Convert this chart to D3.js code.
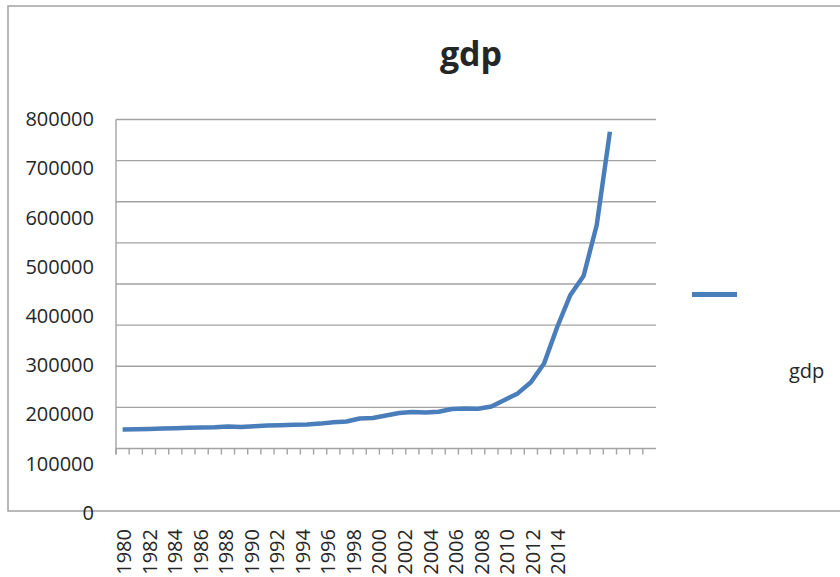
<!DOCTYPE html>
<html><head><meta charset="utf-8">
<script src="https://cdn.jsdelivr.net/npm/d3@7"></script>
<style>
html,body{margin:0;padding:0;background:#fff;}
svg{display:block;}
text{font-family:"Open Sans",sans-serif;fill:#262626;}
</style></head>
<body>
<svg id="chart" width="840" height="577"></svg>
<script>
// ---- data ----
const categories = ["1980","1981","1982","1983","1984","1985","1986","1987","1988","1989",
  "1990","1991","1992","1993","1994","1995","1996","1997","1998","1999",
  "2000","2001","2002","2003","2004","2005","2006","2007","2008","2009",
  "2010","2011","2012","2013","2014","2015","2016","2017","2018","2019","2020"];
const dataYears = ["1980","1981","1982","1983","1984","1985","1986","1987","1988","1989",
  "1990","1991","1992","1993","1994","1995","1996","1997","1998","1999",
  "2000","2001","2002","2003","2004","2005","2006","2007","2008","2009",
  "2010","2011","2012","2013","2014","2015","2016","2017"];
const gdp = [46200,46900,47700,48400,49400,50600,51300,51800,53500,52300,
  54200,55700,56700,57600,58600,60500,63700,65700,73000,74200,
  80200,86300,88800,87500,89200,96000,97000,96500,102100,117900,
  134000,161000,206700,295400,373300,419500,543500,770300];
const xTickLabels = ["1980","1982","1984","1986","1988","1990","1992","1994","1996","1998",
  "2000","2002","2004","2006","2008","2010","2012","2014"];
const yTickValues = [0,100000,200000,300000,400000,500000,600000,700000,800000];
const seriesName = "gdp";
const title = "gdp";

// ---- drawing ----
const svg = d3.select("#chart");
const grey = "#a3a3a3";
const blue = "#4a7ebb";

// outer chart border
svg.append("rect").attr("x",8).attr("y",6).attr("width",900).attr("height",505)
  .attr("fill","none").attr("stroke",grey).attr("stroke-width",1.5);

// plot scales
const x = d3.scaleBand().domain(categories).range([116,656]);
const y = d3.scaleLinear().domain([0,800000]).range([448.5,119.5]);

// gridlines
svg.append("g").selectAll("line").data(yTickValues.filter(d=>d>0)).join("line")
  .attr("x1",116).attr("x2",656).attr("y1",d=>y(d)).attr("y2",d=>y(d))
  .attr("stroke",grey).attr("stroke-width",1.4);

// x axis line and ticks
svg.append("line").attr("x1",116).attr("x2",656).attr("y1",y(0)).attr("y2",y(0))
  .attr("stroke",grey).attr("stroke-width",1.4);
svg.append("g").selectAll("line").data(categories).join("line")
  .attr("x1",d=>x(d)).attr("x2",d=>x(d)).attr("y1",y(0)).attr("y2",y(0)+6)
  .attr("stroke",grey).attr("stroke-width",1.4);
// y axis line
svg.append("line").attr("x1",116).attr("x2",116).attr("y1",y(800000)).attr("y2",y(0)+6)
  .attr("stroke",grey).attr("stroke-width",1.4);

// y tick labels (as rendered in the reference, on their own spacing)
const yLab = d3.scaleLinear().domain([0,800000]).range([513,119.2]);
const yAxis = d3.axisLeft(yLab).tickValues(yTickValues).tickSize(0).tickPadding(0).tickFormat(d3.format("d"));
const gy = svg.append("g").attr("transform","translate(94,0)").call(yAxis);
gy.select(".domain").remove();
gy.selectAll("text").style("font-family","'Open Sans',sans-serif").style("font-size","20px").attr("fill","#262626");

// x tick labels
const xLab = d3.scalePoint().domain(xTickLabels).range([124,558]);
svg.append("g").selectAll("text").data(xTickLabels).join("text")
  .attr("transform",d=>`translate(${xLab(d)},529) rotate(-90)`)
  .attr("text-anchor","end").attr("dy","0.36em")
  .style("font-size","20px").text(d=>d);

// line
const line = d3.line().x((d,i)=>x(dataYears[i])+x.bandwidth()/2).y(d=>y(d));
svg.append("path").datum(gdp).attr("d",line).attr("fill","none")
  .attr("stroke",blue).attr("stroke-width",4.5).attr("stroke-linejoin","round");

// title
svg.append("text").attr("x",471).attr("y",66).attr("text-anchor","middle")
  .style("font-weight","bold").style("font-size","34px").text(title);

// legend
svg.append("line").attr("x1",692).attr("x2",737).attr("y1",294.5).attr("y2",294.5)
  .attr("stroke",blue).attr("stroke-width",5);
svg.append("text").attr("x",789).attr("y",378).style("font-size","20px").text(seriesName);
</script>
</body></html>
